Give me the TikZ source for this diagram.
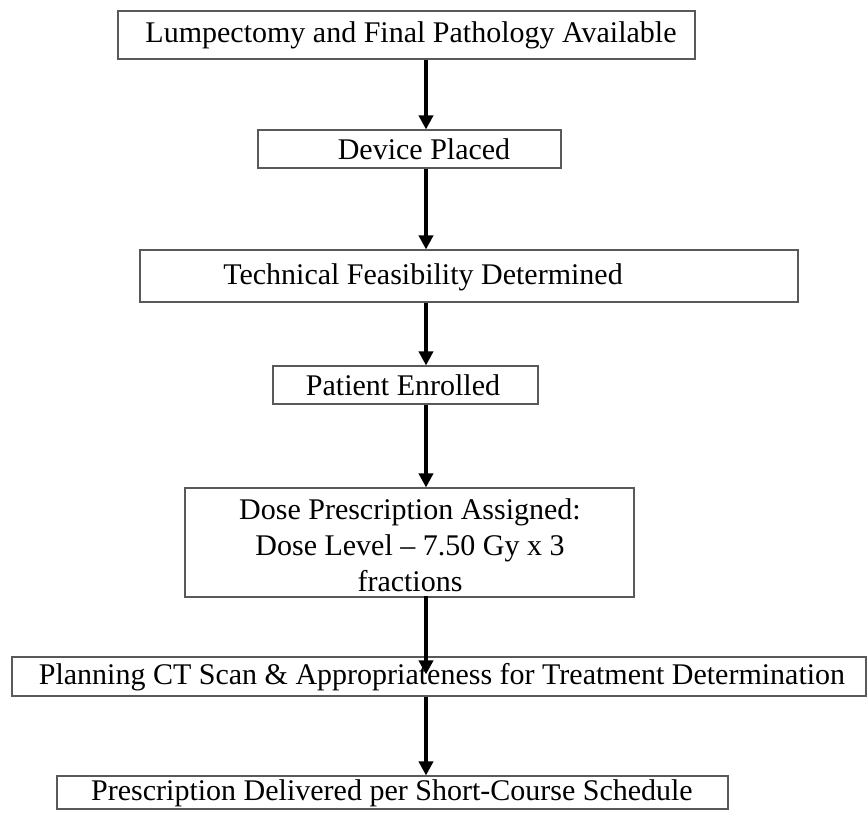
\documentclass[tikz,border=0pt]{standalone}
\usepackage{fontspec}
\setmainfont{Liberation Serif}
\usetikzlibrary{arrows.meta,fit}

\tikzset{
  box/.style={draw=black!65, line width=0.55pt, inner sep=0pt},
  lbl/.style={font=\fontsize{15}{18}\selectfont, align=center, inner sep=0pt},
  flow/.style={line width=1.8pt, -{Triangle[width=7pt,length=7pt]}}
}

\begin{document}
\begin{tikzpicture}[x=0.5pt,y=-0.5pt]
  \useasboundingbox (0,0) rectangle (867,816);
  % boxes, corners taken from the page
  \node[box, fit={(118,11) (695,59)}] (lump) {};
  \node[box, fit={(258,130) (561,168)}] (device) {};
  \node[box, fit={(140,250) (798,302)}] (feas) {};
  \node[box, fit={(273,366) (538,404)}] (enrol) {};
  \node[box, fit={(185,488) (634,597)}] (dose) {};
  \node[box, fit={(12,657) (866,696)}] (plan) {};
  \node[box, fit={(57,776) (728,809)}] (deliv) {};
  % texts
  \node[lbl] (lumptxt) at (411,35) {Lumpectomy and Final Pathology Available};
  \node[lbl] (devicetxt) at (424,149) {Device Placed};
  \node[lbl] (feastxt) at (423,277) {Technical Feasibility Determined};
  \node[lbl] (enroltxt) at (403,385) {Patient Enrolled};
  \node[lbl] (dosetxt) at (410,545) {Dose Prescription Assigned:\\Dose Level -- 7.50 Gy x 3\\fractions};
  \node[lbl] (plantxt) at (442,677) {Planning CT Scan \& Appropriateness for Treatment Determination};
  \node[lbl] (delivtxt) at (392,793) {Prescription Delivered per Short-Course Schedule};
  % arrows
  \coordinate (axis) at (426,0);
  \draw[flow] (lump.south -| axis) -- (device.north -| axis);
  \draw[flow] (device.south -| axis) -- (feas.north -| axis);
  \draw[flow] (feas.south -| axis) -- (enrol.north -| axis);
  \draw[flow] (enrol.south -| axis) -- (dose.north -| axis);
  \draw[flow] ([yshift=1pt]dose.south -| axis) -- ([yshift=-9pt]plan.north -| axis);
  \draw[flow] (plan.south -| axis) -- (deliv.north -| axis);
\end{tikzpicture}
\end{document}
